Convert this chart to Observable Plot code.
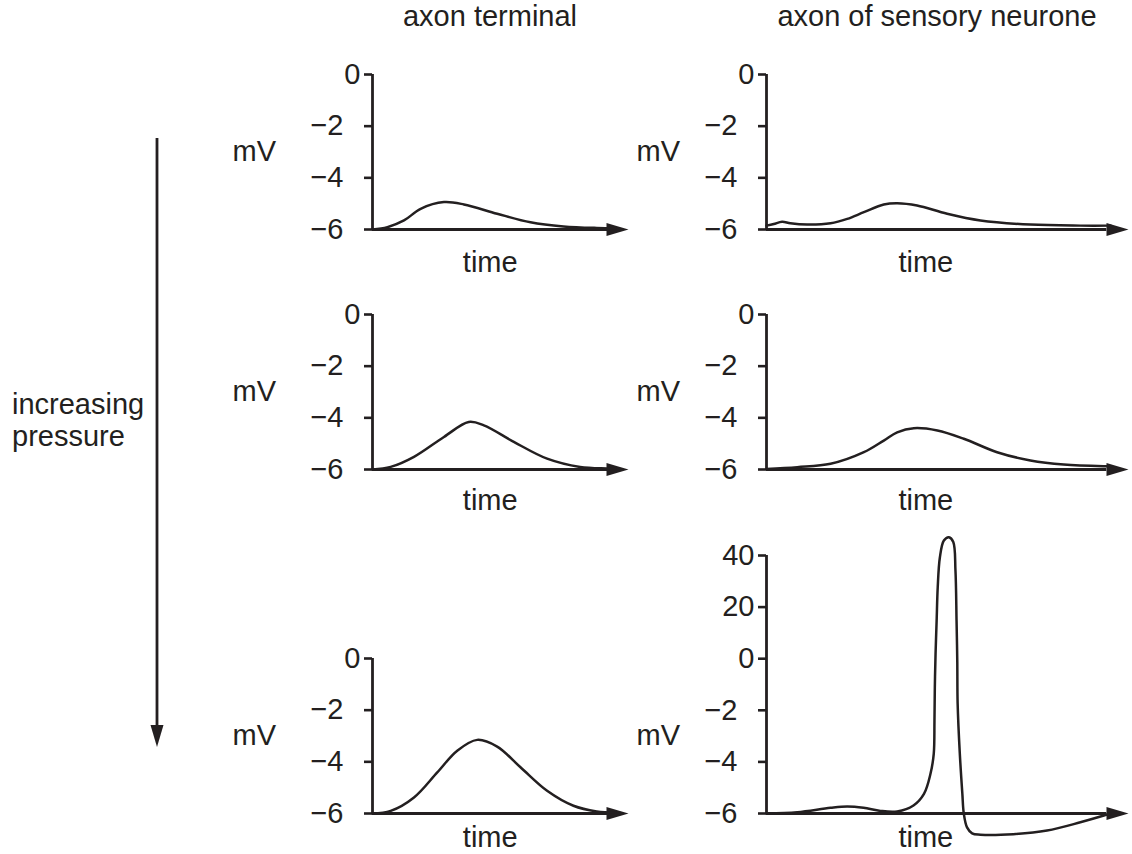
<!DOCTYPE html>
<html><head><meta charset="utf-8">
<script src="https://cdn.jsdelivr.net/npm/d3@7"></script>
<script src="https://cdn.jsdelivr.net/npm/@observablehq/plot@0.6"></script>
<style>
body{margin:0;background:#fff;}
#root{position:relative;width:1132px;height:854px;overflow:hidden;font-family:"Liberation Sans",Arial,Helvetica,sans-serif;color:#231f20;background:#fff;}
.lbl{position:absolute;font-size:29px;line-height:29px;white-space:nowrap;}
.panel{position:absolute;}
</style></head><body><div id="root"></div>
<script>
// ---- data (time in arbitrary units 0..100 along the time arrow, potential in mV) ----
const columnTitles = ["axon terminal", "axon of sensory neurone"];
const sideLabel = ["increasing", "pressure"];
const ticksSmall = [0, -2, -4, -6];
const ticksSpike = [40, 20, 0, -2, -4, -6];

// axon terminal, low pressure
const termLowTime = [0, 5.8, 12.3, 18.8, 27.9, 35.7, 48.7, 61.7, 74.6, 87.6, 95];
const termLowMV   = [-6, -5.91, -5.65, -5.2, -4.94, -5.03, -5.39, -5.72, -5.88, -5.94, -5.95];
// axon terminal, medium pressure
const termMidTime = [0, 7.1, 16.2, 27.9, 37.6, 43.5, 55.2, 68.2, 81.1, 91.5, 95];
const termMidMV   = [-6, -5.9, -5.51, -4.74, -4.16, -4.29, -4.93, -5.58, -5.90, -5.96, -5.97];
// axon terminal, high pressure
const termHighTime = [0, 7.1, 16.2, 25.3, 33.1, 40.9, 48.7, 57.8, 68.2, 78.5, 87.6, 95];
const termHighMV   = [-6, -5.9, -5.38, -4.41, -3.57, -3.15, -3.41, -4.21, -5.12, -5.70, -5.92, -5.97];

// sensory neurone axon, low pressure
const sensLowTime = [0, 2.0, 4.3, 6.6, 11.2, 17.7, 22.3, 26.9, 32.4, 36.1, 41.6, 49.9, 59.1, 72.9, 86.7, 95];
const sensLowMV   = [-5.85, -5.79, -5.70, -5.76, -5.81, -5.76, -5.59, -5.33, -5.03, -4.98, -5.07, -5.39, -5.65, -5.81, -5.85, -5.85];
// sensory neurone axon, medium pressure
const sensMidTime = [0, 8.5, 17.7, 26.9, 32.4, 36.1, 40.7, 47.2, 54.5, 63.7, 72.9, 82.1, 93.2, 95];
const sensMidMV   = [-5.98, -5.91, -5.78, -5.33, -4.88, -4.56, -4.40, -4.49, -4.81, -5.33, -5.65, -5.81, -5.87, -5.87];
// sensory neurone axon, high pressure (action potential)
const sensHighTime = [0, 8.5, 17.7, 22.3, 26.8, 31.5, 36.1, 40.6, 43.5, 45.3, 46.2, 46.4, 46.5, 46.7, 47.0, 47.3, 47.9, 49.0, 50.4, 51.6, 52.2, 52.5, 52.7, 52.8, 53.4, 54.1, 54.5, 55.4, 56.8, 59.1, 68.2, 77.5, 86.7, 93.2, 95];
const sensHighMV   = [-6, -5.95, -5.78, -5.73, -5.78, -5.9, -5.92, -5.69, -5.24, -4.46, -3.69, -2.4, -1.11, 1.8, 14.8, 27.7, 39.3, 45.8, 47.1, 45.2, 34.2, 14.8, -0.1, -1.74, -3.68, -5.23, -6.0, -6.54, -6.77, -6.82, -6.8, -6.66, -6.34, -6.08, -6.0];

// ---- drawing ----
const ink = "#231f20";
const FONT = '"Liberation Sans", Arial, Helvetica, sans-serif';
const root = document.getElementById("root");

const arrowHead = {draw(ctx) { ctx.moveTo(0, 0); ctx.lineTo(-22, -6.5); ctx.lineTo(-22, 6.5); ctx.closePath(); }};
const fmt = d => d < 0 ? "\u2212" + Math.abs(d) : String(d);
// broken axis: above 0 mV one tick step (2 mV of space) holds 20 mV
const brokenAxis = v => v > 0 ? v / 10 : v;

function panel(o) {
  const topTick = o.ticks[0];
  const axisOpts = {anchor: "left", tickSize: 8, strokeWidth: 2.6, stroke: ink, fill: ink, fontSize: 29, tickFormat: fmt, label: null};
  const plot = Plot.plot({
    width: o.width, height: o.height,
    marginLeft: o.xRange[0], marginRight: o.width - o.xRange[1], marginTop: o.yRange[1], marginBottom: o.height - o.yRange[0],
    style: {fontFamily: FONT, fontSize: "29px", color: ink, background: "transparent", overflow: "visible"},
    x: {domain: [0, 100], range: o.xRange, axis: null},
    y: {domain: o.yDomain, range: o.yRange, transform: o.yTransform},
    marks: [
      Plot.axisY(o.ticks.filter(d => d >= 0), {...axisOpts, tickPadding: 4}),
      Plot.axisY(o.ticks.filter(d => d < 0), {...axisOpts, tickPadding: 21}),
      Plot.ruleX([0], {y1: -6, y2: topTick, stroke: ink, strokeWidth: 2.8}),
      Plot.ruleY([-6], {x1: 0, x2: 94, stroke: ink, strokeWidth: 2.8}),
      Plot.dot([0], {x: 100, y: -6, symbol: arrowHead, fill: ink, stroke: "none", r: 6}),
      Plot.line(o.time, {x: o.time, y: o.mv, curve: o.curve || "catmull-rom", stroke: ink, strokeWidth: 2.5}),
      Plot.text(["mV"], {x: 0, y: -3, dx: o.mvDx, text: d => d, textAnchor: "start", fontSize: 29, fill: ink}),
      Plot.text(["time"], {x: o.timeX, y: -6, dy: o.timeDy, text: d => d, fontSize: 29, fill: ink})
    ]
  });
  plot.classList.add("panel");
  plot.style.left = o.left + "px";
  plot.style.top = o.top + "px";
  root.appendChild(plot);
}

const leftCol = {left: 222, width: 420, xRange: [150, 406], mvDx: -140, timeX: 46};
const rightCol = {left: 616, width: 516, xRange: [150, 512], mvDx: -130, timeX: 44};

panel({...leftCol, top: 54, height: 230, yDomain: [-6, 0], yRange: [175, 20], ticks: ticksSmall, time: termLowTime, mv: termLowMV, timeDy: 33});
panel({...leftCol, top: 294, height: 225, yDomain: [-6, 0], yRange: [175, 20], ticks: ticksSmall, time: termMidTime, mv: termMidMV, timeDy: 31});
panel({...leftCol, top: 638, height: 216, yDomain: [-6, 0], yRange: [175, 20], ticks: ticksSmall, time: termHighTime, mv: termHighMV, timeDy: 24});

panel({...rightCol, top: 54, height: 230, yDomain: [-6, 0], yRange: [175, 20], ticks: ticksSmall, time: sensLowTime, mv: sensLowMV, timeDy: 33});
panel({...rightCol, top: 294, height: 225, yDomain: [-6, 0], yRange: [175, 20], ticks: ticksSmall, time: sensMidTime, mv: sensMidMV, timeDy: 31});
panel({...rightCol, top: 530, height: 324, yDomain: [-6, 4], yRange: [283, 25], yTransform: brokenAxis, ticks: ticksSpike, time: sensHighTime, mv: sensHighMV, timeDy: 24});

// column titles
[[columnTitles[0], 490], [columnTitles[1], 937]].forEach(([t, cx]) => {
  const d = document.createElement("div");
  d.className = "lbl";
  d.textContent = t;
  d.style.left = (cx - 250) + "px";
  d.style.width = "500px";
  d.style.textAlign = "center";
  d.style.top = "2px";
  root.appendChild(d);
});

// side label
const side = document.createElement("div");
side.className = "lbl";
side.style.left = "12px";
side.style.top = "388px";
side.style.lineHeight = "32px";
side.innerHTML = sideLabel.join("<br>");
root.appendChild(side);

// downward pressure arrow
const ns = "http://www.w3.org/2000/svg";
const svg = document.createElementNS(ns, "svg");
svg.setAttribute("width", "30");
svg.setAttribute("height", "620");
svg.style.position = "absolute";
svg.style.left = "142px";
svg.style.top = "135px";
svg.innerHTML = `<line x1="15" y1="3" x2="15" y2="595" stroke="${ink}" stroke-width="2.8"/><polygon points="8.5,590 21.5,590 15,612" fill="${ink}"/>`;
root.appendChild(svg);
</script>
</body></html>
